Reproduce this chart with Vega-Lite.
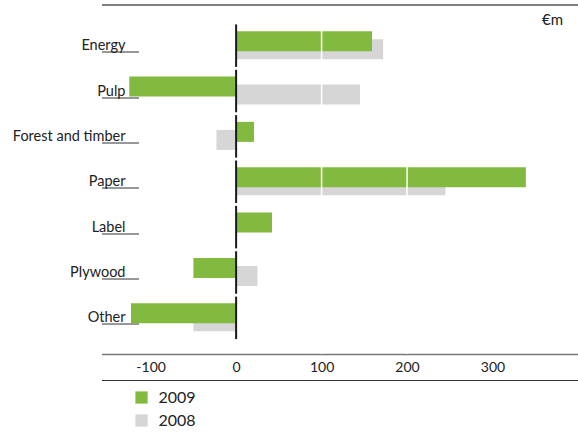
{
  "$schema": "https://vega.github.io/schema/vega-lite/v6.json",
  "width": 476.5,
  "height": 344.5,
  "autosize": {"type": "none"},
  "padding": {"left": 101.5, "top": 9.5, "right": 0, "bottom": 94},
  "background": "white",
  "config": {
    "view": {"stroke": null},
    "font": "Lato",
    "axis": {"grid": false, "title": null, "labelColor": "#222", "labelFontSize": 14, "labelFont": "Lato"}
  },
  "title": {
    "text": "€m",
    "anchor": "end",
    "orient": "top",
    "frame": "group",
    "offset": -35,
    "dx": -15,
    "baseline": "alphabetic",
    "fontSize": 15,
    "fontWeight": "normal",
    "color": "#222",
    "font": "Lato"
  },
  "data": {
    "values": [
      {"category": "Energy", "year": "2009", "value": 159},
      {"category": "Energy", "year": "2008", "value": 172},
      {"category": "Pulp", "year": "2009", "value": -125},
      {"category": "Pulp", "year": "2008", "value": 145},
      {"category": "Forest and timber", "year": "2009", "value": 21},
      {"category": "Forest and timber", "year": "2008", "value": -23},
      {"category": "Paper", "year": "2009", "value": 339},
      {"category": "Paper", "year": "2008", "value": 245},
      {"category": "Label", "year": "2009", "value": 42},
      {"category": "Label", "year": "2008", "value": 0},
      {"category": "Plywood", "year": "2009", "value": -50},
      {"category": "Plywood", "year": "2008", "value": 25},
      {"category": "Other", "year": "2009", "value": -123},
      {"category": "Other", "year": "2008", "value": -50}
    ]
  },
  "layer": [
    {
      "transform": [{"filter": "datum.year == '2008'"}],
      "mark": {"type": "bar", "height": 20, "yOffset": 3.5},
      "encoding": {
        "y": {
          "field": "category", "type": "nominal",
          "sort": ["Energy", "Pulp", "Forest and timber", "Paper", "Label", "Plywood", "Other"],
          "scale": {"paddingInner": 0.066, "paddingOuter": 0.33},
          "axis": {
            "orient": "left", "offset": -37, "domain": false, "ticks": true,
            "tickSize": 37, "tickColor": "#333", "tickWidth": 1, "tickOffset": 6,
            "labelOffset": -6, "labelPadding": -23.5, "labelFontSize": 14.5, "labelColor": "#222"
          }
        },
        "x": {
          "field": "value", "type": "quantitative",
          "scale": {"domain": [-157.5, 400], "nice": false, "zero": false},
          "axis": {
            "orient": "bottom", "values": [-100, 0, 100, 200, 300], "ticks": false,
            "labelExpr": "'' + datum.value",
            "domain": true, "domainColor": "#777", "domainWidth": 1.5, "labelPadding": 6, "labelFontSize": 14
          }
        },
        "color": {
          "field": "year", "type": "nominal",
          "scale": {"domain": ["2009", "2008"], "range": ["#82ba3f", "#d6d6d6"]},
          "legend": {
            "orient": "none", "legendX": 32, "legendY": 380, "title": null,
            "symbolType": "square", "symbolSize": 150, "symbolStrokeWidth": 0,
            "labelFontSize": 16, "labelColor": "#222", "labelOffset": 9, "rowPadding": 7, "padding": 0
          }
        }
      }
    },
    {
      "transform": [{"filter": "datum.year == '2009'"}],
      "mark": {"type": "bar", "height": 20, "yOffset": -4.5},
      "encoding": {
        "y": {
          "field": "category", "type": "nominal",
          "sort": ["Energy", "Pulp", "Forest and timber", "Paper", "Label", "Plywood", "Other"],
          "scale": {"paddingInner": 0.066, "paddingOuter": 0.33}
        },
        "x": {
          "field": "value", "type": "quantitative",
          "scale": {"domain": [-157.5, 400], "nice": false, "zero": false},
          "axis": {"orient": "top", "offset": 5, "labels": false, "ticks": false, "domain": true, "domainColor": "#555", "domainWidth": 1.5}
        },
        "color": {"field": "year", "type": "nominal"}
      }
    },
    {
      "data": {"values": [{"g": 100}, {"g": 200}]},
      "mark": {"type": "rule", "color": "#ffffff", "strokeWidth": 1.5},
      "encoding": {
        "x": {
          "field": "g", "type": "quantitative",
          "scale": {"domain": [-157.5, 400], "nice": false, "zero": false},
          "axis": {"orient": "bottom", "offset": 26, "labels": false, "ticks": false, "domain": true, "domainColor": "#333", "domainWidth": 1.2}
        }
      }
    },
    {
      "transform": [{"filter": "datum.year == '2009'"}],
      "mark": {"type": "tick", "orient": "vertical", "size": 42.5, "thickness": 2, "color": "#1a1a1a", "opacity": 1},
      "encoding": {
        "y": {
          "field": "category", "type": "nominal",
          "sort": ["Energy", "Pulp", "Forest and timber", "Paper", "Label", "Plywood", "Other"],
          "scale": {"paddingInner": 0.066, "paddingOuter": 0.33}
        },
        "x": {"datum": 0, "type": "quantitative", "axis": null}
      }
    }
  ],
  "resolve": {"axis": {"x": "independent"}}
}
